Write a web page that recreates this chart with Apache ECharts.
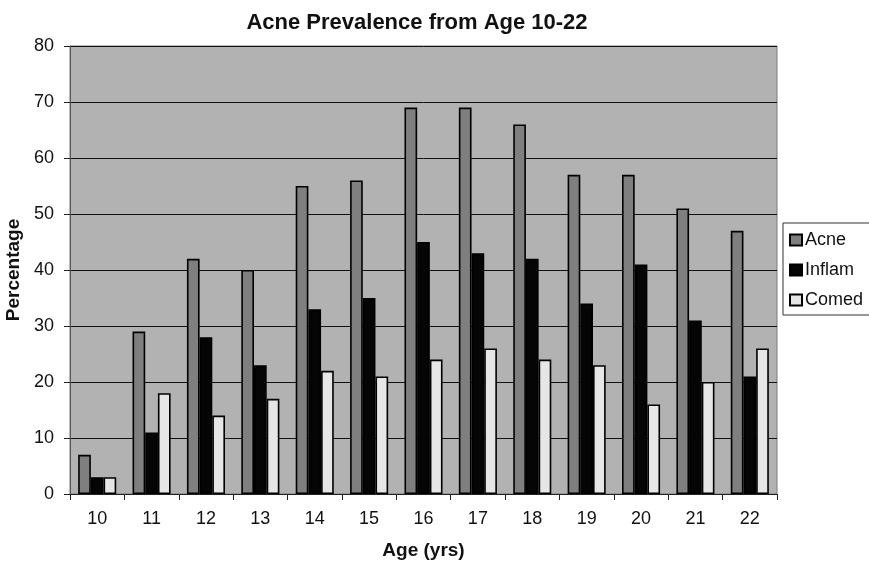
<!DOCTYPE html>
<html><head><meta charset="utf-8">
<script src="https://cdn.jsdelivr.net/npm/echarts@6/dist/echarts.min.js"></script>
<style>html,body{margin:0;padding:0;background:#fff}#c{width:869px;height:568px}</style>
</head><body><div id="c"></div>
<script>
const categories = ['10','11','12','13','14','15','16','17','18','19','20','21','22'];
const acne   = [7, 29, 42, 40, 55, 56, 69, 69, 66, 57, 57, 51, 47];
const inflam = [3, 11, 28, 23, 33, 35, 45, 43, 42, 34, 41, 31, 21];
const comed  = [3, 18, 14, 17, 22, 21, 24, 26, 24, 23, 16, 20, 26];
const yTicks = [0, 10, 20, 30, 40, 50, 60, 70, 80];

const font = 'Liberation Sans, Arial, sans-serif';
const chart = echarts.init(document.getElementById('c'));
function bar(name, data, color) {
  return {
    name, type: 'bar', data,
    barGap: '0%', barCategoryGap: '30%',
    itemStyle: { color, borderColor: '#000', borderWidth: 1.6 }
  };
}
chart.setOption({
  animation: false,
  textStyle: { fontFamily: font },
  title: {
    text: 'Acne Prevalence from Age 10-22', left: 412, top: 7, textAlign: 'center',
    textStyle: { fontFamily: font, fontSize: 22, fontWeight: 'bold', color: '#111' }
  },
  grid: {
    left: 70, right: 92, top: 46, bottom: 74, show: true,
    containLabel: false, outerBoundsMode: 'none',
    backgroundColor: '#b2b2b2', borderColor: '#7a7a7a', borderWidth: 1
  },
  legend: {
    orient: 'vertical', left: 783, top: 223, width: 80,
    backgroundColor: '#fff', borderColor: '#333', borderWidth: 1,
    padding: [8, 8, 6, 6], itemGap: 12, itemWidth: 12, itemHeight: 11,
    icon: 'rect',
    textStyle: { fontFamily: font, fontSize: 18, color: '#111', padding: [0, 0, 0, -2] },
    data: ['Acne', 'Inflam', 'Comed']
  },
  xAxis: {
    type: 'category', data: categories,
    name: 'Age (yrs)', nameLocation: 'middle', nameGap: 47,
    nameTextStyle: { fontFamily: font, fontSize: 19, fontWeight: 'bold', color: '#111' },
    axisLine: { lineStyle: { color: '#222', width: 1 } },
    axisTick: { show: true, alignWithLabel: false, length: 6, lineStyle: { color: '#222' } },
    axisLabel: { fontFamily: font, fontSize: 18, color: '#111', margin: 16 },
    splitLine: { show: false }
  },
  yAxis: {
    type: 'value', min: yTicks[0], max: yTicks[yTicks.length - 1], interval: 10,
    name: 'Percentage', nameLocation: 'middle', nameGap: 42, nameRotate: 90,
    nameTextStyle: { fontFamily: font, fontSize: 19, fontWeight: 'bold', color: '#111' },
    axisLine: { show: true, lineStyle: { color: '#555', width: 1 } },
    axisTick: { show: true, length: 6, lineStyle: { color: '#222' } },
    axisLabel: { fontFamily: font, fontSize: 18, color: '#111', margin: 16 },
    splitLine: { show: true, lineStyle: { color: '#111', width: 1 } }
  },
  series: [
    bar('Acne', acne, '#7f7f7f'),
    bar('Inflam', inflam, '#050505'),
    bar('Comed', comed, '#e6e6e6')
  ]
});
</script></body></html>
